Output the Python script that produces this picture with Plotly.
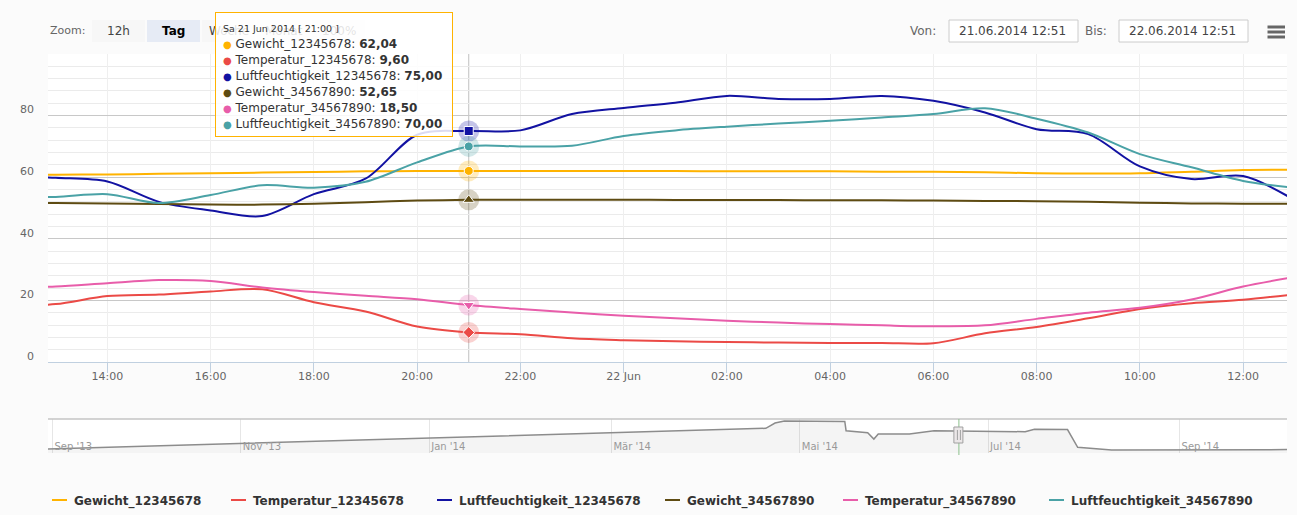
import plotly.graph_objects as go
import pandas as pd

W, H = 1297, 515
ML, MR = 48, 10
PW = W - ML - MR
FONT = "DejaVu Sans"


def X(px):
    return (px - ML) / PW


def Y(py):
    return 1 - py / H


# ---------------- data ----------------
times = pd.date_range("2014-06-21 12:00", "2014-06-22 13:00", freq="h")

gewicht_12345678 = [60.7, 60.8, 60.9, 61.1, 61.3, 61.5, 61.7, 61.9, 62.0, 62.04, 62.0, 62.0, 62.0,
                    62.0, 61.9, 61.9, 61.9, 61.8, 61.8, 61.6, 61.3, 61.2, 61.3, 61.8, 62.3, 62.4]
temperatur_12345678 = [18.0, 18.8, 21.4, 21.9, 22.9, 23.6, 19.4, 16.4, 11.5, 9.60, 9.0, 7.7, 7.1,
                       6.7, 6.5, 6.3, 6.2, 6.2, 6.1, 9.3, 11.4, 14.2, 17.2, 19.1, 20.2, 22.0]
luftfeuchtigkeit_12345678 = [60.5, 59.8, 58.6, 52.0, 49.2, 47.4, 54.5, 59.5, 73.8, 75.0, 75.2, 80.5, 82.5,
                             84.2, 86.4, 85.4, 85.4, 86.4, 84.8, 81.0, 75.6, 74.0, 63.5, 59.4, 60.4, 52.5]
gewicht_34567890 = [51.6, 51.6, 51.5, 51.3, 51.1, 51.1, 51.4, 51.9, 52.4, 52.65, 52.7, 52.7, 52.7,
                    52.6, 52.6, 52.6, 52.5, 52.5, 52.4, 52.3, 52.2, 52.0, 51.7, 51.5, 51.4, 51.4]
temperatur_34567890 = [24.0, 24.5, 25.6, 26.6, 26.3, 24.2, 22.7, 21.5, 20.4, 18.50, 17.2, 16.1, 15.0,
                       14.2, 13.4, 12.8, 12.3, 11.9, 11.6, 11.9, 14.0, 16.0, 17.6, 20.3, 24.5, 27.6]
luftfeuchtigkeit_34567890 = [53.5, 53.6, 54.5, 51.6, 54.2, 57.4, 56.6, 58.5, 64.8, 70.0, 70.0, 70.2, 73.4,
                             75.2, 76.4, 77.4, 78.3, 79.4, 80.5, 82.4, 79.0, 74.5, 67.5, 63.2, 58.8, 56.5]

series_names = ["Gewicht_12345678", "Temperatur_12345678", "Luftfeuchtigkeit_12345678",
                "Gewicht_34567890", "Temperatur_34567890", "Luftfeuchtigkeit_34567890"]
series_values = [gewicht_12345678, temperatur_12345678, luftfeuchtigkeit_12345678,
                 gewicht_34567890, temperatur_34567890, luftfeuchtigkeit_34567890]
series_colors = ["#FFB300", "#EB4A46", "#1212A2", "#5E4B12", "#E85DAA", "#4AA2A6"]
series_symbols = ["circle", "diamond", "square", "triangle-up", "triangle-down", "circle"]

x_tickvals = pd.date_range("2014-06-21 14:00", "2014-06-22 12:00", freq="2h")
x_ticktext = ["14:00", "16:00", "18:00", "20:00", "22:00", "22 Jun",
              "02:00", "04:00", "06:00", "08:00", "10:00", "12:00"]
y_tickvals = [0, 20, 40, 60, 80, 100]
y_ticktext = ["0", "20", "40", "60", "80", ""]

view_start = "2014-06-21 12:51"
view_end = "2014-06-22 12:51"
hover_time = pd.Timestamp("2014-06-21 21:00")
hover_header = "Sa 21 Jun 2014 [ 21:00 ]"

nav_dates = pd.to_datetime(["2013-08-30 13:00", "2014-04-20 00:00", "2014-04-23 00:00", "2014-04-26 00:00",
                            "2014-05-15 14:00", "2014-05-16 00:00", "2014-05-23 00:00", "2014-05-25 00:00",
                            "2014-05-26 10:00", "2014-06-05 12:00", "2014-06-13 12:00", "2014-07-13 00:00",
                            "2014-07-16 00:00", "2014-07-26 17:00", "2014-07-30 00:00", "2014-08-10 00:00",
                            "2014-10-05 19:00"], format="mixed")
nav_values = [11.8, 72.6, 88.0, 94.0, 93.0, 65.6, 59.7, 41.0, 56.0, 56.0,
              65.6, 62.6, 69.7, 69.0, 16.8, 8.8, 10.0]
nav_range = ["2013-08-30 13:00", "2014-10-05 19:00"]
nav_tickvals = ["2013-09-01", "2013-11-01", "2014-01-01", "2014-03-01",
                "2014-05-01", "2014-07-01", "2014-09-01"]
nav_ticktext = ["Sep '13", "Nov '13", "Jan '14", "Mär '14", "Mai '14", "Jul '14", "Sep '14"]

zoom_buttons = ["12h", "Tag", "Woche", "Monat", "100%"]
selected_button = "Tag"
input_from = "21.06.2014 12:51"
input_to = "22.06.2014 12:51"


def rgba(hexc, a):
    h = hexc.lstrip("#")
    return "rgba(%d,%d,%d,%s)" % (int(h[0:2], 16), int(h[2:4], 16), int(h[4:6], 16), a)


hover_idx = list(times).index(hover_time)

fig = go.Figure()

# navigator series
fig.add_trace(go.Scatter(x=nav_dates, y=nav_values, xaxis="x2", yaxis="y2", mode="lines",
                         line=dict(color="#8C8C8C", width=1.5), fill="tozeroy",
                         fillcolor="rgba(0,0,0,0.045)", hoverinfo="skip", showlegend=False))

# main series
for name, vals, col in zip(series_names, series_values, series_colors):
    fig.add_trace(go.Scatter(x=times, y=vals, name=name, mode="lines",
                             line=dict(color=col, width=2, shape="spline", smoothing=0.9),
                             showlegend=False, hoverinfo="skip"))

# hover halos + markers
for vals, col, sym in zip(series_values, series_colors, series_symbols):
    fig.add_trace(go.Scatter(x=[times[hover_idx]], y=[vals[hover_idx]], mode="markers",
                             marker=dict(size=21, color=rgba(col, 0.25), line=dict(width=0)),
                             showlegend=False, hoverinfo="skip"))
    fig.add_trace(go.Scatter(x=[times[hover_idx]], y=[vals[hover_idx]], mode="markers",
                             marker=dict(size=9 if "triangle" not in sym else 10, color=col, symbol=sym,
                                         line=dict(width=1, color="white")),
                             showlegend=False, hoverinfo="skip"))

shapes = []
annotations = []

# crosshair
shapes.append(dict(type="line", xref="x", yref="paper", x0=hover_time, x1=hover_time,
                   y0=Y(362), y1=Y(54), line=dict(color="#C0C0C0", width=1), layer="between"))

# navigator top border
shapes.append(dict(type="line", xref="paper", yref="paper", x0=0, x1=1, y0=Y(419), y1=Y(419),
                   line=dict(color="#C4C4C4", width=1.5)))
# navigator selection outline and handle
sel_mid = pd.Timestamp(view_start)
shapes.append(dict(type="line", xref="x2", yref="paper", x0=sel_mid, x1=sel_mid,
                   y0=Y(455), y1=Y(419), line=dict(color="#8CC08C", width=1)))
shapes.append(dict(type="rect", xref="x2", yref="paper", xsizemode="pixel", xanchor=sel_mid,
                   x0=-5, x1=4, y0=Y(443), y1=Y(427), fillcolor="#EBE7E8",
                   line=dict(color="#A0A0A0", width=1)))
for off in (-1.5, 1.5):
    shapes.append(dict(type="line", xref="x2", yref="paper", xsizemode="pixel", xanchor=sel_mid,
                       x0=off, x1=off, y0=Y(440), y1=Y(430), line=dict(color="#A0A0A0", width=1)))

# range selector
annotations.append(dict(x=X(48), y=Y(31), xref="paper", yref="paper", xanchor="left", yanchor="middle",
                        text="Zoom:", showarrow=False, font=dict(family=FONT, size=11, color="#666666")))
bx = 92
for b in zoom_buttons:
    sel = b == selected_button
    shapes.append(dict(type="rect", xref="paper", yref="paper", x0=X(bx), x1=X(bx + 53),
                       y0=Y(42), y1=Y(20), fillcolor="#E6EBF5" if sel else "#F7F7F7",
                       line=dict(width=0)))
    annotations.append(dict(x=X(bx + 26.5), y=Y(31), xref="paper", yref="paper", xanchor="center",
                            yanchor="middle", text="<b>%s</b>" % b if sel else b, showarrow=False,
                            font=dict(family=FONT, size=12, color="#000000" if sel else "#444444")))
    bx += 55

# date inputs
for lbl, lx, bx0, txt in (("Von:", 938, 949, input_from), ("Bis:", 1109, 1119, input_to)):
    annotations.append(dict(x=X(lx), y=Y(31), xref="paper", yref="paper", xanchor="right", yanchor="middle",
                            text=lbl, showarrow=False, font=dict(family=FONT, size=12, color="#666666")))
    shapes.append(dict(type="rect", xref="paper", yref="paper", x0=X(bx0), x1=X(bx0 + 129),
                       y0=Y(42), y1=Y(20), fillcolor="#FFFFFF", line=dict(color="#CCCCCC", width=1)))
    annotations.append(dict(x=X(bx0 + 8), y=Y(31), xref="paper", yref="paper", xanchor="left",
                            yanchor="middle", text=txt, showarrow=False,
                            font=dict(family=FONT, size=12, color="#444444")))

# menu icon
for y0 in (25.5, 30.5, 35.5):
    shapes.append(dict(type="rect", xref="paper", yref="paper", x0=X(1267.5), x1=X(1285),
                       y0=Y(y0 + 3), y1=Y(y0), fillcolor="#666666", line=dict(width=0)))

# legend (manual)
legend_x = [52, 231, 437, 665, 843, 1049]
for name, col, lx in zip(series_names, series_colors, legend_x):
    shapes.append(dict(type="line", xref="paper", yref="paper", x0=X(lx), x1=X(lx + 15),
                       y0=Y(500), y1=Y(500), line=dict(color=col, width=2)))
    annotations.append(dict(x=X(lx + 20), y=Y(501), xref="paper", yref="paper", xanchor="left",
                            yanchor="middle", text="<b>%s</b>" % name, showarrow=False,
                            font=dict(family=FONT, size=12, color="#333333")))

# tooltip: box, header, rows
annotations.append(dict(x=X(215), y=Y(12), xref="paper", yref="paper", xanchor="left", yanchor="top",
                        text=" ", showarrow=False, bgcolor="rgba(255,255,255,0.85)",
                        bordercolor=series_colors[0], borderwidth=1, borderpad=0,
                        width=236, height=123, font=dict(family=FONT, size=12)))
annotations.append(dict(x=X(222), y=Y(28), xref="paper", yref="paper", xanchor="left", yanchor="middle",
                        text=hover_header, showarrow=False, borderpad=0,
                        font=dict(family=FONT, size=9.5, color="#333333")))
rows = []
for name, vals, col in zip(series_names, series_values, series_colors):
    v = ("%.2f" % vals[hover_idx]).replace(".", ",")
    rows.append("<span style='color:%s;font-size:10px'>●</span><span style='font-size:12px'> %s: <b>%s</b></span>"
                % (col, name, v))
annotations.append(dict(x=X(222), y=Y(35.5), xref="paper", yref="paper", xanchor="left", yanchor="top",
                        text="<br>".join(rows), showarrow=False, align="left",
                        borderpad=0, font=dict(family=FONT, size=12.3, color="#333333")))

fig.update_layout(
    width=W, height=H,
    margin=dict(l=ML, r=MR, t=0, b=0),
    paper_bgcolor="#FBFBFB", plot_bgcolor="#FFFFFF",
    font=dict(family=FONT),
    showlegend=False,
    xaxis=dict(type="date", range=[view_start, view_end], domain=[0, 1], anchor="y",
               tickmode="array", tickvals=x_tickvals, ticktext=x_ticktext,
               showgrid=True, gridcolor="#EFEFEF", gridwidth=1,
               ticks="outside", ticklen=10, tickcolor="#C0D0E0",
               showline=True, linecolor="#C0D0E0", linewidth=1, zeroline=False,
               tickfont=dict(family=FONT, size=11, color="#666666"), ticklabelstandoff=-6),
    yaxis=dict(domain=[Y(362), Y(54)], range=[0, 100], anchor="x",
               tickmode="array", tickvals=y_tickvals, ticktext=y_ticktext,
               showgrid=True, gridcolor="#C8C8C8", gridwidth=1, zeroline=False,
               minor=dict(tickmode="linear", tick0=0, dtick=4, showgrid=True, gridcolor="#EBEBEB"),
               tickfont=dict(family=FONT, size=11, color="#666666"),
               ticklabelshift=-6, ticklabelstandoff=13),
    xaxis2=dict(type="date", range=nav_range, domain=[0, 1], anchor="y2",
                tickmode="array", tickvals=nav_tickvals, ticktext=nav_ticktext,
                showgrid=True, gridcolor="#E6E6E6", ticks="", showline=False, zeroline=False,
                ticklabelposition="inside right", ticklabelstandoff=-5, ticklabelshift=2,
                tickfont=dict(family=FONT, size=10, color="#999999")),
    yaxis2=dict(domain=[Y(453), Y(419)], range=[0, 100], anchor="x2",
                showgrid=False, showticklabels=False, zeroline=False),
    shapes=shapes,
    annotations=annotations,
)

fig.write_html("out.html", config={"displayModeBar": False},
               post_script="document.body.style.margin='0px';document.body.style.overflow='hidden';")
